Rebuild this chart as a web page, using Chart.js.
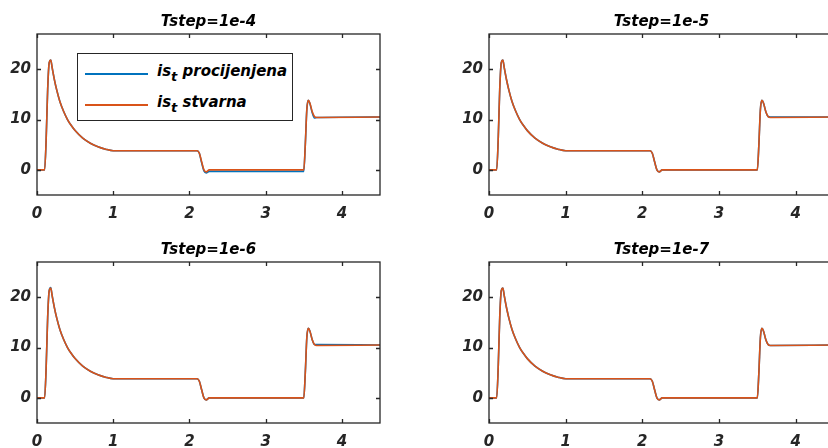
<!DOCTYPE html>
<html>
<head>
<meta charset="utf-8">
<script src="https://cdn.jsdelivr.net/npm/chart.js@4.4.0/dist/chart.umd.min.js"></script>
<style>
  html, body { margin: 0; padding: 0; background: #fff; overflow: hidden; width: 828px; height: 448px; }
  .panel { position: absolute; }
  .legenda {
    position: absolute; left: 77px; top: 53px; width: 216px; height: 68px;
    box-sizing: border-box; border: 1px solid #262626; background: #fff; z-index: 2;
    font-family: 'DejaVu Sans'; font-weight: bold; font-style: italic; font-size: 15px; color: #000;
  }
  .legenda .crta { position: absolute; left: 7px; width: 63px; height: 0; border-top: 2px solid; }
  .legenda .tekst { position: absolute; left: 79px; white-space: nowrap; line-height: 18px; }
  .legenda sub { font-size: 13px; vertical-align: -5px; line-height: 0; }
</style>
</head>
<body>
<div class="panel" style="left:0px;top:0px"><canvas id="g1" width="400" height="230"></canvas></div>
<div class="panel" style="left:452px;top:0px"><canvas id="g2" width="402" height="230"></canvas></div>
<div class="panel" style="left:0px;top:228px"><canvas id="g3" width="400" height="230"></canvas></div>
<div class="panel" style="left:452px;top:228px"><canvas id="g4" width="402" height="230"></canvas></div>
<div class="legenda">
  <div class="crta" style="top:19px;border-color:#0072BD"></div>
  <div class="tekst" style="top:8px">is<sub>t</sub> procijenjena</div>
  <div class="crta" style="top:50px;border-color:#D95319"></div>
  <div class="tekst" style="top:39px">is<sub>t</sub> stvarna</div>
</div>
<script>
// vrijeme [s]
const vrijeme = [0, 0.10, 0.12, 0.14, 0.16, 0.18, 0.20, 0.23, 0.26, 0.30, 0.35, 0.40, 0.45, 0.50, 0.60, 0.70, 0.80, 0.90, 1.00,
  2.10, 2.13, 2.16, 2.19, 2.22, 2.26, 3.50, 3.52, 3.54, 3.56, 3.58, 3.61, 3.64, 3.67, 4.50];

// is_t stvarna
const stvarna = [0, 0, 6, 16, 21.3, 21.8, 20.2, 17.8, 15.8, 13.6, 11.6, 10.0, 8.8, 7.8, 6.3, 5.3, 4.6, 4.1, 3.8,
  3.8, 3.3, 1.6, 0, -0.4, 0, 0, 5, 12, 13.8, 13.3, 11.6, 10.6, 10.4, 10.5];

// is_t procijenjena, za svaki Tstep
const procjena1e4 = [0, 0, 6, 16, 21.3, 21.8, 20.2, 17.8, 15.8, 13.6, 11.6, 10.0, 8.8, 7.8, 6.3, 5.3, 4.6, 4.1, 3.8,
  3.8, 3.3, 1.4, -0.2, -0.6, -0.3, -0.3, 5, 12, 13.8, 13.2, 11.4, 10.3, 10.4, 10.5];
const procjena1e5 = [0, 0, 6, 16, 21.3, 21.8, 20.2, 17.8, 15.8, 13.6, 11.6, 10.0, 8.8, 7.8, 6.3, 5.3, 4.6, 4.1, 3.8,
  3.8, 3.3, 1.6, 0, -0.4, 0, 0, 5, 12, 13.8, 13.3, 11.6, 10.6, 10.5, 10.5];
const procjena1e6 = [0, 0, 6, 16, 21.3, 21.9, 20.2, 17.8, 15.8, 13.6, 11.6, 10.0, 8.8, 7.8, 6.3, 5.3, 4.6, 4.1, 3.8,
  3.8, 3.3, 1.6, 0, -0.4, 0, 0, 5, 12, 13.8, 13.3, 11.6, 10.6, 10.6, 10.5];
const procjena1e7 = [0, 0, 6, 16, 21.3, 21.8, 20.2, 17.8, 15.8, 13.6, 11.6, 10.0, 8.8, 7.8, 6.3, 5.3, 4.6, 4.1, 3.8,
  3.8, 3.3, 1.6, 0, -0.4, 0, 0, 5, 12, 13.8, 13.3, 11.6, 10.6, 10.4, 10.5];

const naslovi = ['Tstep=1e-4', 'Tstep=1e-5', 'Tstep=1e-6', 'Tstep=1e-7'];
const procjene = [procjena1e4, procjena1e5, procjena1e6, procjena1e7];
const xOznake = [0, 1, 2, 3, 4];
const yOznake = [0, 10, 20];

const PLAVA = '#0072BD';
const NARANCASTA = '#D95319';
const FONT = { family: 'DejaVu Sans', size: 15, weight: 'bold', style: 'italic' };

// okvir oko grafa i kratke crtice prema unutra (kao u MATLAB-u)
const okvir = {
  id: 'okvir',
  afterDraw(chart) {
    const { ctx, chartArea: a, scales } = chart;
    ctx.save();
    ctx.strokeStyle = '#262626';
    ctx.lineWidth = 1.3;
    ctx.beginPath();
    scales.x.ticks.forEach(t => {
      const px = Math.round(scales.x.getPixelForValue(t.value)) + 0.5;
      ctx.moveTo(px, a.bottom); ctx.lineTo(px, a.bottom - 4);
      ctx.moveTo(px, a.top); ctx.lineTo(px, a.top + 4);
    });
    scales.y.ticks.forEach(t => {
      const py = Math.round(scales.y.getPixelForValue(t.value)) + 0.5;
      ctx.moveTo(a.left, py); ctx.lineTo(a.left + 4, py);
      ctx.moveTo(a.right, py); ctx.lineTo(a.right - 4, py);
    });
    ctx.stroke();
    ctx.strokeRect(a.left, a.top, a.right - a.left, a.bottom - a.top);
    ctx.restore();
  }
};

function tocke(vrijednosti) {
  return vrijeme.map((t, i) => ({ x: t, y: vrijednosti[i] }));
}

function nacrtaj(id, naslov, procjena) {
  new Chart(document.getElementById(id), {
    type: 'line',
    data: {
      datasets: [
        { label: 'stvarna', data: tocke(stvarna), borderColor: NARANCASTA, borderWidth: 1.6,
          pointRadius: 0, cubicInterpolationMode: 'monotone', order: 0 },
        { label: 'procijenjena', data: tocke(procjena), borderColor: PLAVA, borderWidth: 1.6,
          pointRadius: 0, cubicInterpolationMode: 'monotone', order: 1 },
      ],
    },
    options: {
      responsive: false,
      animation: false,
      layout: { padding: { left: 0, right: 20, top: 0, bottom: 0 } },
      plugins: {
        legend: { display: false },
        tooltip: { enabled: false },
        title: { display: true, fullSize: false, text: naslov, color: '#000', font: FONT,
          padding: { top: 13, bottom: 3 } },
      },
      scales: {
        x: {
          type: 'linear', min: 0, max: 4.5,
          afterBuildTicks: s => { s.ticks = xOznake.map(v => ({ value: v })); },
          afterFit: s => { s.height = 35; },
          grid: { display: false, drawTicks: false },
          border: { display: false },
          ticks: { color: '#262626', font: FONT, padding: 10, maxRotation: 0 },
        },
        y: {
          min: -5, max: 27,
          afterBuildTicks: s => { s.ticks = yOznake.map(v => ({ value: v })); },
          afterFit: s => { s.width = 37; },
          grid: { display: false, drawTicks: false },
          border: { display: false },
          ticks: { color: '#262626', font: FONT, padding: 6 },
        },
      },
    },
    plugins: [okvir],
  });
}

nacrtaj('g1', naslovi[0], procjene[0]);
nacrtaj('g2', naslovi[1], procjene[1]);
nacrtaj('g3', naslovi[2], procjene[2]);
nacrtaj('g4', naslovi[3], procjene[3]);
</script>
</body>
</html>
